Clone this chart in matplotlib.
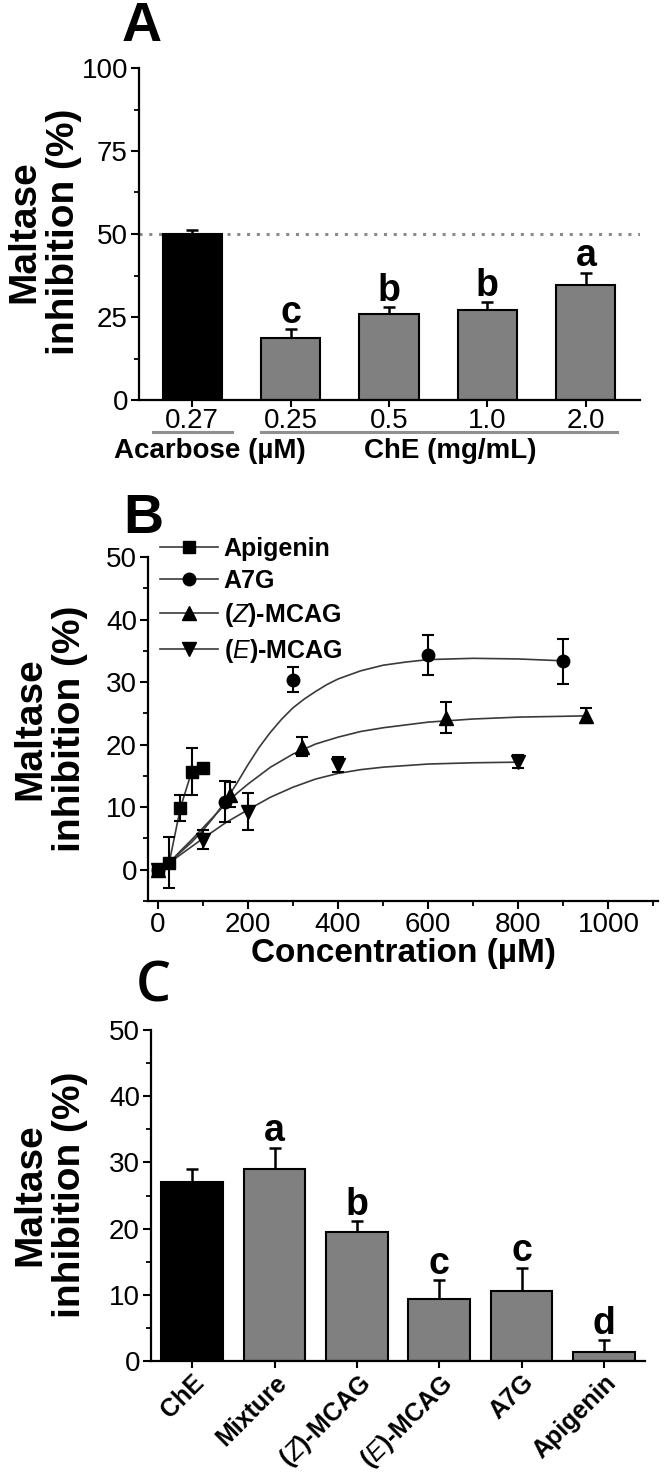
import matplotlib
matplotlib.use('Agg')
import matplotlib.pyplot as plt
import matplotlib.transforms as mtransforms
from matplotlib.lines import Line2D
from matplotlib.ticker import MultipleLocator, FixedLocator

plt.rcParams['font.family'] = ['Liberation Sans', 'DejaVu Sans']
plt.rcParams['mathtext.fontset'] = 'custom'
plt.rcParams['mathtext.it'] = 'Liberation Sans:italic'
plt.rcParams['mathtext.rm'] = 'Liberation Sans:bold'

# ---------------- Panel A data ----------------
a_ticklabels = ['0.27', '0.25', '0.5', '1.0', '2.0']
a_values = [50.0, 18.6, 25.9, 27.2, 34.5]
a_errors = [1.2, 2.7, 2.0, 2.2, 3.9]
a_letters = ['', 'c', 'b', 'b', 'a']
a_colors = ['black', '#808080', '#808080', '#808080', '#808080']
a_groups = ['Acarbose (µM)', 'ChE (mg/mL)']

# ---------------- Panel B data ----------------
apigenin_x = [0, 25, 50, 75, 100]
apigenin_y = [0.0, 1.1, 9.9, 15.7, 16.3]
apigenin_err = [0.6, 4.1, 2.1, 3.7, 0.6]

a7g_x = [0, 150, 300, 600, 900]
a7g_y = [0.0, 10.9, 30.4, 34.4, 33.3]
a7g_err = [0.6, 3.3, 2.0, 3.2, 3.6]

zmcag_x = [0, 160, 320, 640, 950]
zmcag_y = [0.0, 12.0, 19.7, 24.3, 24.6]
zmcag_err = [0.6, 2.0, 1.5, 2.5, 1.2]

emcag_x = [0, 100, 200, 400, 800]
emcag_y = [0.0, 4.8, 9.3, 16.8, 17.3]
emcag_err = [0.6, 1.5, 3.0, 1.2, 1.0]

# fitted curves
a7g_curve_x = [25, 50, 75, 100, 125, 150, 175, 200, 225, 250, 275, 300, 325, 350, 375, 400,
               450, 500, 550, 600, 700, 800, 900]
a7g_curve_y = [1.1, 2.8, 4.4, 6.3, 8.5, 11.0, 13.8, 16.8, 19.6, 22.0, 24.1, 25.9, 27.3, 28.5,
               29.6, 30.5, 31.8, 32.7, 33.2, 33.6, 33.8, 33.7, 33.4]
zmcag_curve_x = [25, 50, 75, 100, 125, 150, 175, 200, 250, 300, 350, 400, 450, 500, 600, 700, 800, 950]
zmcag_curve_y = [1.1, 3.0, 4.8, 6.7, 8.6, 10.5, 12.2, 13.7, 16.4, 18.5, 20.1, 21.2, 22.1, 22.7,
                 23.6, 24.1, 24.4, 24.6]
emcag_curve_x = [25, 50, 75, 100, 150, 200, 250, 300, 350, 400, 450, 500, 600, 700, 800]
emcag_curve_y = [1.1, 2.4, 3.7, 5.0, 7.5, 9.6, 11.6, 13.2, 14.5, 15.4, 16.0, 16.4, 16.9, 17.1, 17.2]

b_series = ['Apigenin', 'A7G', r'($\mathit{Z}$)-MCAG', r'($\mathit{E}$)-MCAG']

# ---------------- Panel C data ----------------
c_labels = ['ChE', 'Mixture', r'($\mathit{Z}$)-MCAG', r'($\mathit{E}$)-MCAG', 'A7G', 'Apigenin']
c_values = [27.0, 29.0, 19.5, 9.3, 10.6, 1.4]
c_errors = [2.0, 3.2, 1.6, 2.9, 3.5, 1.7]
c_letters = ['', 'a', 'b', 'c', 'c', 'd']
c_colors = ['black', '#808080', '#808080', '#808080', '#808080', '#808080']

W, H = 666, 1477
fig = plt.figure(figsize=(W / 100, H / 100), dpi=100)


def rect(l, t, r, b):
    return [l / W, 1 - b / H, (r - l) / W, (b - t) / H]


TICK_FONT = 20
LET_FONT = 27
YLAB_FONT = 28


def style_axes(ax):
    for s in ['top', 'right']:
        ax.spines[s].set_visible(False)
    for s in ['left', 'bottom']:
        ax.spines[s].set_linewidth(1.6)
    ax.tick_params(which='major', direction='out', length=6, width=1.5, labelsize=TICK_FONT, pad=2)
    ax.tick_params(which='minor', direction='out', length=3.5, width=1.3)


# ================= Panel A =================
axA = fig.add_axes(rect(139, 68, 640, 400))
style_axes(axA)
xa = list(range(len(a_values)))
axA.axhline(50, color='#8a8a8a', ls=(0, (1, 2.2)), lw=2.2, zorder=0)
axA.errorbar(xa, a_values, yerr=a_errors, fmt='none', ecolor='black',
             elinewidth=1.8, capsize=4.5, capthick=1.8, zorder=1)
axA.bar(xa, a_values, width=0.6, color=a_colors, edgecolor='black', linewidth=1.5, zorder=2)
for x, v, e, t in zip(xa, a_values, a_errors, a_letters):
    if t:
        axA.text(x, v + e + 2.0, t, ha='center', va='baseline', fontsize=LET_FONT, fontweight='bold')
axA.set_xlim(-0.54, 4.55)
axA.set_ylim(0, 100)
axA.yaxis.set_major_locator(FixedLocator([0, 25, 50, 75, 100]))
axA.yaxis.set_minor_locator(MultipleLocator(12.5))
axA.set_xticks(xa)
axA.set_xticklabels(a_ticklabels, fontsize=TICK_FONT)
axA.tick_params(axis='x', length=5, pad=1)
trA = mtransforms.blended_transform_factory(axA.transData, axA.transAxes)
axA.add_line(Line2D([-0.40, 0.40], [-0.097, -0.097], transform=trA, color='#8f8f8f', lw=2.2, clip_on=False))
axA.add_line(Line2D([0.70, 4.32], [-0.097, -0.097], transform=trA, color='#8f8f8f', lw=2.2, clip_on=False))
axA.text(0.18, -0.153, a_groups[0], transform=trA, ha='center', va='center', fontsize=20, fontweight='bold')
axA.text(2.62, -0.153, a_groups[1], transform=trA, ha='center', va='center', fontsize=20, fontweight='bold')
fig.text(142 / W, 1 - 27 / H, 'A', ha='center', va='center', fontsize=40, fontweight='bold')
fig.text(44 / W, 1 - 232 / H, 'Maltase\ninhibition (%)', rotation=90, ha='center', va='center',
         fontsize=YLAB_FONT, fontweight='bold', linespacing=1.15, multialignment='center')

# ================= Panel B =================
axB = fig.add_axes(rect(148, 557, 658, 901))
style_axes(axB)
curve_col = '#3a3a3a'
axB.plot(apigenin_x, apigenin_y, color=curve_col, lw=1.2, zorder=2)
axB.plot(a7g_curve_x, a7g_curve_y, color=curve_col, lw=1.2, zorder=2)
axB.plot(zmcag_curve_x, zmcag_curve_y, color=curve_col, lw=1.2, zorder=2)
axB.plot(emcag_curve_x, emcag_curve_y, color=curve_col, lw=1.2, zorder=2)
series = [(apigenin_x, apigenin_y, apigenin_err, 's', 8),
          (a7g_x, a7g_y, a7g_err, 'o', 9),
          (zmcag_x, zmcag_y, zmcag_err, '^', 9.5),
          (emcag_x, emcag_y, emcag_err, 'v', 9.5)]
for xs, ys, es, m, ms in series:
    axB.errorbar(xs, ys, yerr=es, fmt=m, ms=ms, color='black', mfc='black', mec='black',
                 ecolor='black', elinewidth=1.5, capsize=4, capthick=1.5, zorder=3)
axB.set_xlim(-22, 1110)
axB.set_ylim(-5, 50)
axB.xaxis.set_major_locator(MultipleLocator(200))
axB.xaxis.set_minor_locator(MultipleLocator(100))
axB.yaxis.set_major_locator(MultipleLocator(10))
axB.yaxis.set_minor_locator(MultipleLocator(5))
axB.tick_params(axis='both', labelsize=TICK_FONT)
axB.set_xlabel('Concentration (µM)', fontsize=24, fontweight='bold', labelpad=0)
handles = [Line2D([], [], color=curve_col, lw=1.2, marker=m, ms=ms, mfc='black', mec='black')
           for _, _, _, m, ms in series]
axB.legend(handles, b_series, loc='upper left', bbox_to_anchor=(160 / W, 1 - 537 / H),
           bbox_transform=fig.transFigure, frameon=False, borderpad=0, borderaxespad=0,
           handlelength=2.3, handletextpad=0.25, labelspacing=0.32,
           prop={'weight': 'bold', 'size': 18})
fig.text(143 / W, 1 - 519 / H, 'B', ha='center', va='center', fontsize=40, fontweight='bold')
fig.text(50 / W, 1 - 729 / H, 'Maltase\ninhibition (%)', rotation=90, ha='center', va='center',
         fontsize=YLAB_FONT, fontweight='bold', linespacing=1.15, multialignment='center')

# ================= Panel C =================
axC = fig.add_axes(rect(151, 1030, 645, 1361))
style_axes(axC)
xc = list(range(len(c_values)))
axC.errorbar(xc, c_values, yerr=c_errors, fmt='none', ecolor='black',
             elinewidth=1.8, capsize=4.5, capthick=1.8, zorder=1)
axC.bar(xc, c_values, width=0.75, color=c_colors, edgecolor='black', linewidth=1.5, zorder=2)
for x, v, e, t in zip(xc, c_values, c_errors, c_letters):
    if t:
        axC.text(x, v + e + 1.0, t, ha='center', va='baseline', fontsize=LET_FONT, fontweight='bold')
axC.set_xlim(-0.5, 5.5)
axC.set_ylim(0, 50)
axC.yaxis.set_major_locator(MultipleLocator(10))
axC.yaxis.set_minor_locator(MultipleLocator(5))
axC.set_xticks(xc)
axC.set_xticklabels(c_labels, rotation=45, ha='right', va='top', rotation_mode='anchor',
                    fontsize=18, fontweight='bold')
axC.tick_params(axis='x', length=5, pad=2)
fig.text(153 / W, 1 - 987 / H, 'C', ha='center', va='center', fontsize=40, fontweight='semibold',
         family=['Open Sans', 'DejaVu Sans'])
fig.text(50 / W, 1 - 1195 / H, 'Maltase\ninhibition (%)', rotation=90, ha='center', va='center',
         fontsize=YLAB_FONT, fontweight='bold', linespacing=1.15, multialignment='center')

fig.savefig('out.png', dpi=100)
